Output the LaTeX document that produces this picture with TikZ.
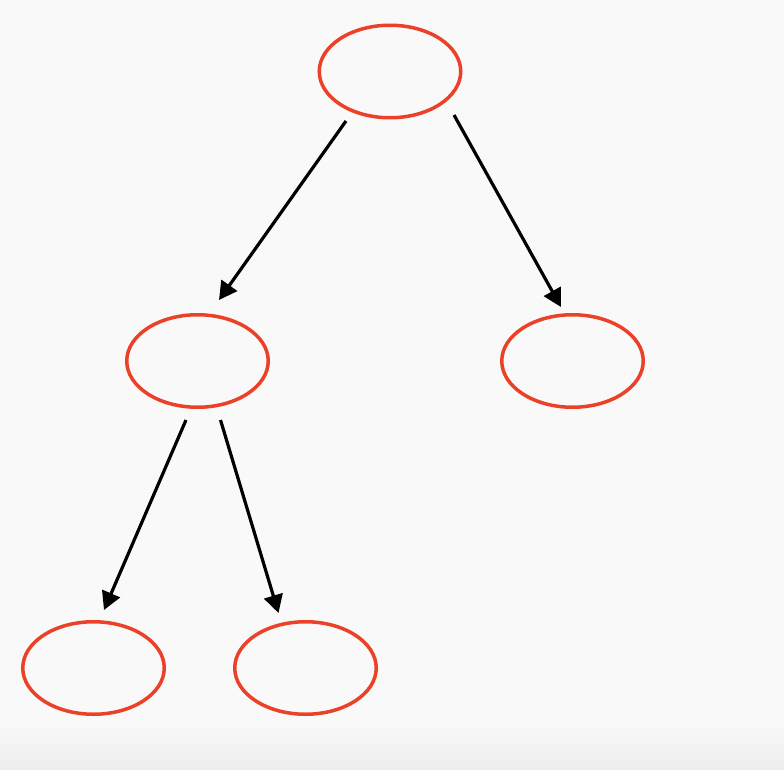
\documentclass[tikz,border=0pt]{standalone}
\usetikzlibrary{shapes.geometric,arrows.meta}
\definecolor{nodered}{RGB}{234,65,40}
\definecolor{paper}{RGB}{249,249,249}
\definecolor{paperlow}{RGB}{237,237,237}
\tikzset{
  treenode/.style={ellipse, draw=nodered, line width=3.5pt, inner sep=0pt,
    minimum width=141.5pt, minimum height=92.5pt},
  link/.style={draw=black, line width=3.2pt,
    -{Triangle[length=18pt,width=19pt]}}
}
\begin{document}
\begin{tikzpicture}[x=1pt,y=-1pt]
  % page and soft darkening at the bottom edge
  \fill[paper] (0,0) rectangle (784,770);
  \shade[top color=paper, bottom color=paperlow] (0,722) rectangle (784,770);
  \useasboundingbox (0,0) rectangle (784,770);

  % tree nodes
  \node[treenode] (root) at (390,71.5) {};
  \node[treenode] (midleft) at (197.5,361) {};
  \node[treenode] (midright) at (572.5,361) {};
  \node[treenode] (lowleft) at (93.5,668) {};
  \node[treenode] (lowright) at (305.5,668) {};

  % parent-to-child links
  \draw[link] ([shift={(-44,49.5)}]root.center) -- ([shift={(21.5,-61)}]midleft.center);
  \draw[link] ([shift={(64,43.5)}]root.center) -- ([shift={(-11.5,-54)}]midright.center);
  \draw[link] ([shift={(-11.5,59)}]midleft.center) -- ([shift={(10.5,-58)}]lowleft.center);
  \draw[link] ([shift={(23,59)}]midleft.center) -- ([shift={(-27,-55)}]lowright.center);
\end{tikzpicture}
\end{document}
